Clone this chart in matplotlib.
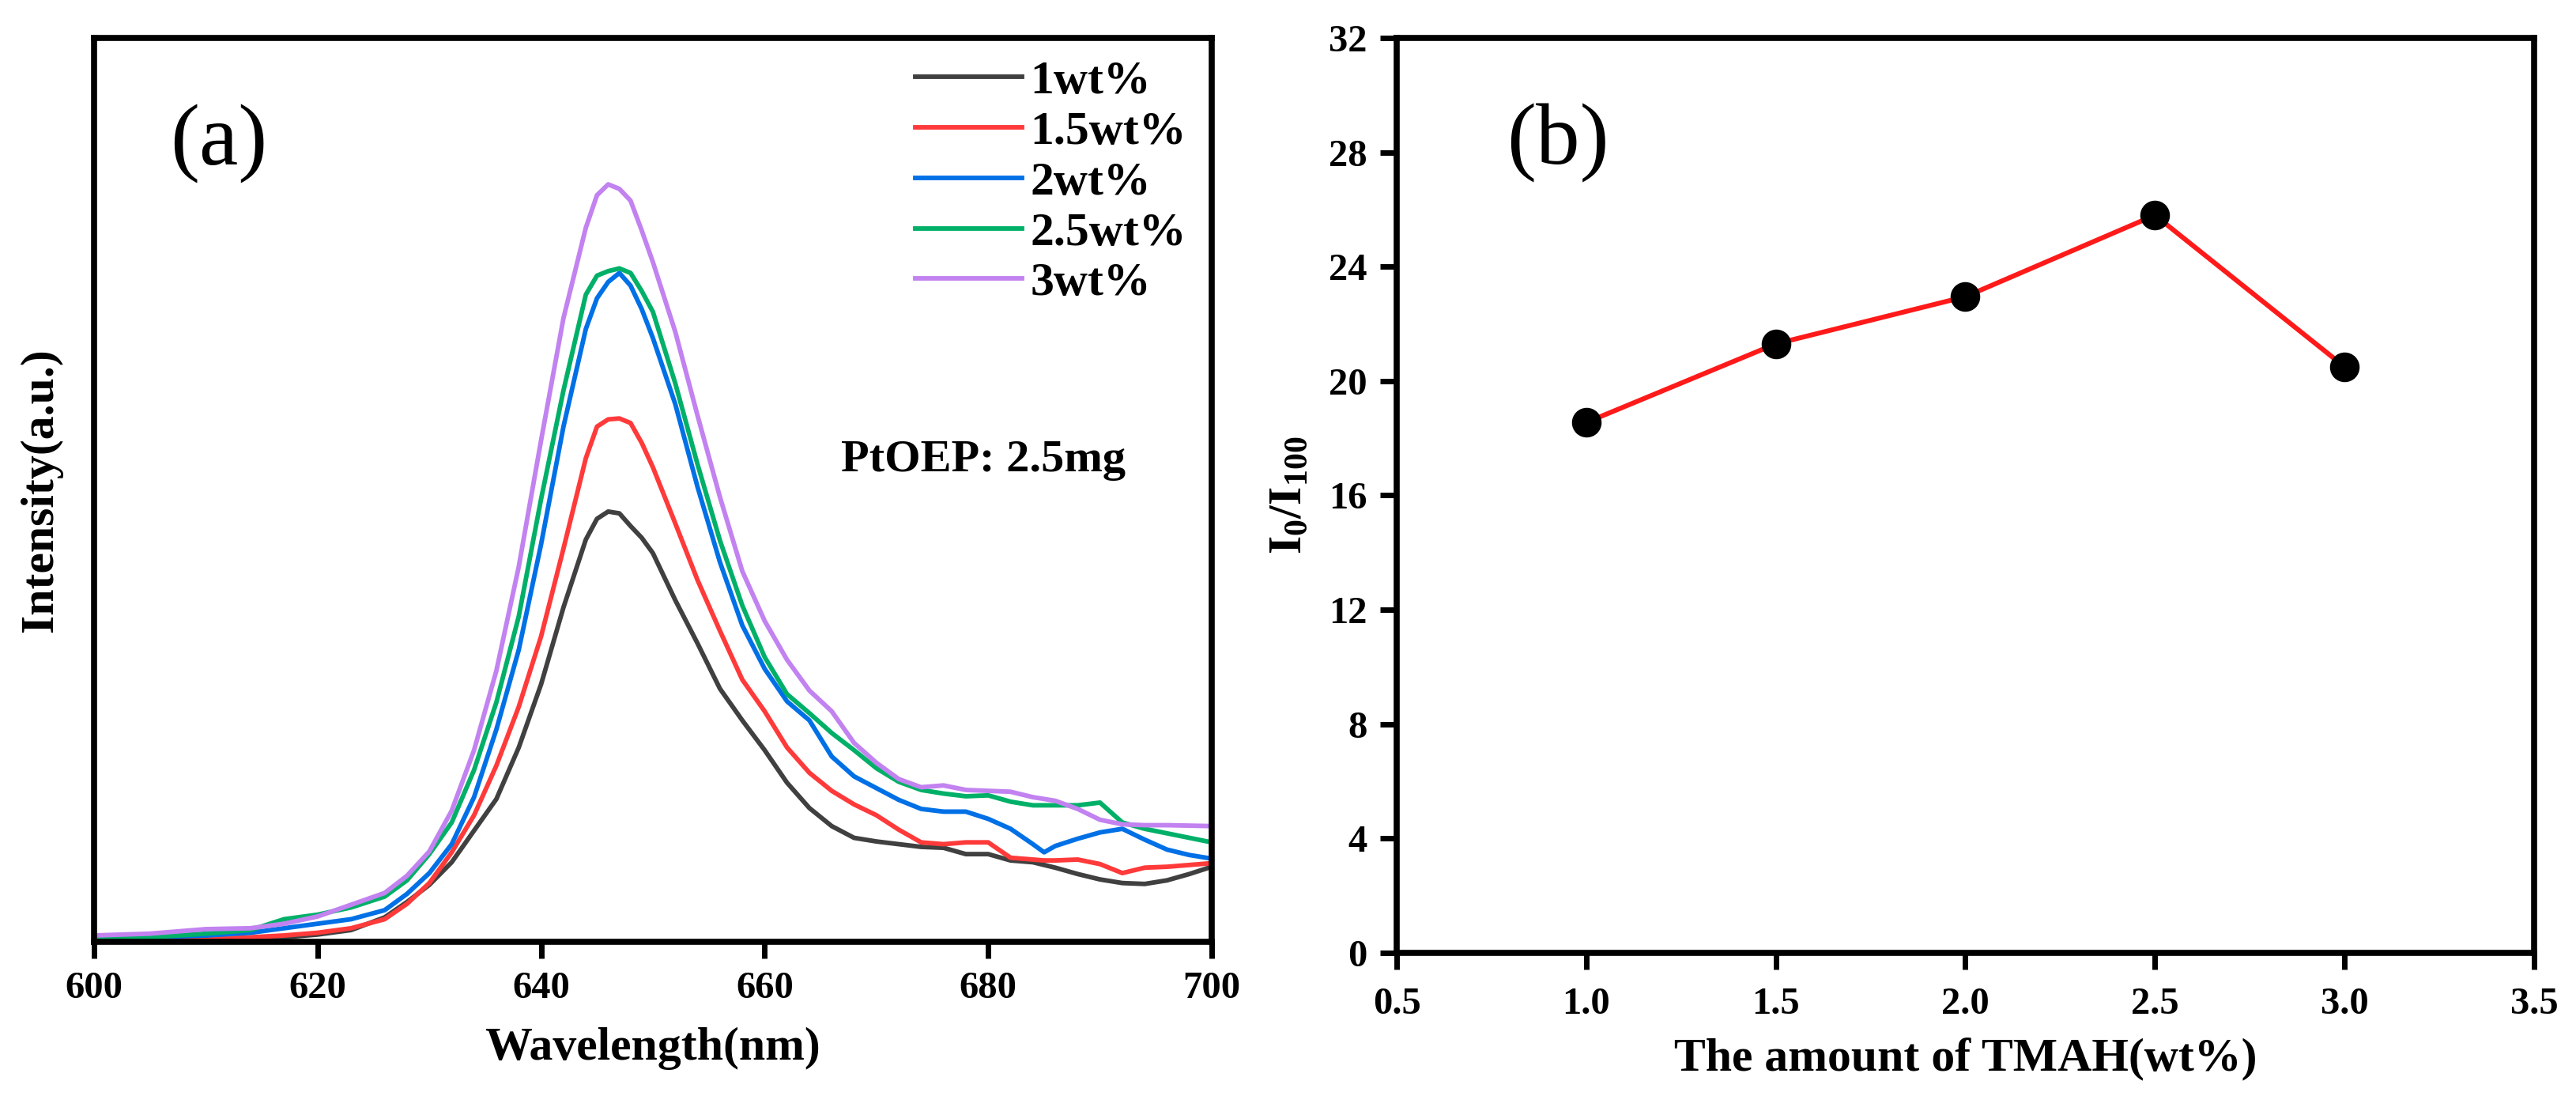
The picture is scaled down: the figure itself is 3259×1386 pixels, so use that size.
import matplotlib
matplotlib.use("Agg")
import matplotlib.pyplot as plt
import numpy as np

plt.rcParams['font.family'] = ['Liberation Serif', 'DejaVu Serif']
plt.rcParams['mathtext.fontset'] = 'custom'
plt.rcParams['mathtext.rm'] = 'Liberation Serif:bold'
plt.rcParams['mathtext.bf'] = 'Liberation Serif:bold'
plt.rcParams['mathtext.it'] = 'Liberation Serif:bold'

# ---- panel (a): emission spectra ----
wavelength = [600, 605, 610, 614, 617, 620, 623, 626, 628, 630, 632, 634, 636, 638,
              640, 642, 644, 645, 646, 647, 648, 649, 650, 652, 654, 656, 658, 660,
              662, 664, 666, 668, 670, 672, 674, 676, 678, 680, 682, 684, 685, 686,
              688, 690, 692, 694, 696, 698, 700]

int_1wt = [0.15, 0.15, 0.2, 0.3, 0.5, 0.8, 1.3, 2.7, 4.4, 6.3,
           8.8, 12.3, 15.8, 21.5, 28.5, 37.0, 44.5, 46.8, 47.6, 47.4,
           46.0, 44.7, 43.0, 37.8, 33.0, 28.0, 24.5, 21.2, 17.6, 14.8,
           12.8, 11.5, 11.1, 10.8, 10.5, 10.4, 9.7, 9.7, 9.0, 8.8,
           8.5, 8.2, 7.5, 6.9, 6.5, 6.4, 6.8, 7.5, 8.3]
int_15wt = [0.2, 0.25, 0.3, 0.5, 0.7, 1.0, 1.5, 2.5, 4.2, 6.5,
            9.9, 14.0, 19.5, 26.0, 33.8, 43.5, 53.5, 57.0, 57.8, 57.9,
            57.4, 55.2, 52.5, 46.3, 40.0, 34.4, 29.0, 25.5, 21.5, 18.7,
            16.7, 15.2, 14.0, 12.4, 11.0, 10.8, 11.0, 11.0, 9.3, 9.1,
            9.0, 9.0, 9.1, 8.6, 7.6, 8.2, 8.3, 8.5, 8.7]
int_2wt = [0.4, 0.5, 0.7, 1.0, 1.5, 2.0, 2.5, 3.5, 5.3, 7.6,
           10.8, 16.0, 23.5, 32.3, 44.0, 57.0, 67.8, 71.2, 73.0, 74.0,
           72.6, 70.0, 66.8, 59.5, 50.3, 42.0, 35.0, 30.2, 26.6, 24.5,
           20.5, 18.3, 17.0, 15.7, 14.7, 14.4, 14.4, 13.6, 12.5, 10.8,
           9.9, 10.6, 11.4, 12.1, 12.5, 11.3, 10.2, 9.6, 9.2]
int_25wt = [0.3, 0.5, 0.9, 1.3, 2.5, 3.0, 3.8, 5.0, 6.8, 9.7,
            13.2, 19.0, 26.5, 36.0, 49.0, 61.0, 71.6, 73.7, 74.2, 74.5,
            74.0, 72.0, 69.7, 61.8, 52.8, 44.4, 37.2, 31.5, 27.4, 25.3,
            23.1, 21.2, 19.2, 17.7, 16.8, 16.4, 16.1, 16.2, 15.5, 15.1,
            15.1, 15.1, 15.1, 15.4, 13.2, 12.5, 12.0, 11.5, 11.0]
int_3wt = [0.7, 0.9, 1.4, 1.5, 2.0, 2.8, 4.1, 5.4, 7.3, 10.0,
           14.5, 21.2, 30.0, 41.5, 55.5, 69.0, 79.0, 82.6, 83.8, 83.3,
           82.0, 78.7, 75.2, 67.5, 58.2, 49.2, 41.0, 35.5, 31.2, 27.8,
           25.5, 22.0, 19.8, 18.0, 17.1, 17.3, 16.8, 16.7, 16.6, 16.0,
           15.8, 15.6, 14.7, 13.5, 13.0, 12.9, 12.9, 12.85, 12.8]

spectra = [int_1wt, int_15wt, int_2wt, int_25wt, int_3wt]
labels = ["1wt%", "1.5wt%", "2wt%", "2.5wt%", "3wt%"]
colors = ["#404040", "#ff3a3a", "#0070e6", "#00b068", "#c282f0"]

# ---- panel (b): quenching ratio ----
tmah = [1.0, 1.5, 2.0, 2.5, 3.0]
ratio = [18.55, 21.3, 22.95, 25.8, 20.5]

fig = plt.figure(figsize=(32.59, 13.86), dpi=100, facecolor='white')
ax1 = fig.add_axes([0.0365, 0.1407, 0.4339, 0.8247])
ax2 = fig.add_axes([0.5422, 0.1306, 0.4415, 0.8348])

for ax in (ax1, ax2):
    for sp in ax.spines.values():
        sp.set_linewidth(5.5)

for y, lab, c in zip(spectra, labels, colors):
    ax1.plot(wavelength, y, color=c, lw=4.2, label=lab,
             solid_joinstyle='round')

ax1.set_xlim(600, 700)
ax1.set_ylim(0, 100)
ax1.set_xticks([600, 620, 640, 660, 680, 700])
ax1.set_yticks([])
ax1.tick_params(axis='x', direction='out', length=15, width=5, pad=12,
                labelsize=35)
for t in ax1.get_xticklabels():
    t.set_fontweight('bold')
ax1.set_xlabel("Wavelength(nm)", fontsize=43, fontweight='bold')
ax1.set_ylabel("Intensity(a.u.)", fontsize=43, fontweight='bold')
ax1.xaxis.set_label_coords(0.5, -0.094)
ax1.yaxis.set_label_coords(-0.028, 0.5)
ax1.text(0.068, 0.883, "(a)", transform=ax1.transAxes, fontsize=80,
         va='center', ha='left')
ax1.text(0.668, 0.533, "PtOEP: 2.5mg", transform=ax1.transAxes, fontsize=42,
         fontweight='bold', va='center', ha='left')
ax1.legend(loc='upper left', bbox_to_anchor=(0.735, 0.975), frameon=False,
           prop={'size': 43, 'weight': 'bold'}, handlelength=2.25,
           handletextpad=0.18, labelspacing=0.15, borderpad=0, borderaxespad=0)

ax2.plot(tmah, ratio, color='#ff1a1a', lw=4.4, marker='o', markersize=26,
         markerfacecolor='black', markeredgecolor='black')
ax2.set_xlim(0.5, 3.5)
ax2.set_ylim(0, 32)
ax2.set_xticks(np.arange(0.5, 3.51, 0.5))
ax2.set_xticklabels(["0.5", "1.0", "1.5", "2.0", "2.5", "3.0", "3.5"])
ax2.set_yticks(range(0, 33, 4))
ax2.tick_params(direction='out', length=15, width=5, labelsize=35)
ax2.tick_params(axis='x', pad=16)
ax2.tick_params(axis='y', pad=12)
for t in ax2.get_xticklabels() + ax2.get_yticklabels():
    t.set_fontweight('bold')
ax2.set_xlabel("The amount of TMAH(wt%)", fontsize=43, fontweight='bold')
ax2.set_ylabel(r"$\mathbf{I_0/I_{100}}$", fontsize=43)
ax2.xaxis.set_label_coords(0.5, -0.093)
ax2.yaxis.set_label_coords(-0.075, 0.5)
ax2.text(0.0966, 0.885, "(b)", transform=ax2.transAxes, fontsize=80,
         va='center', ha='left')

fig.savefig("out.png", dpi=100, facecolor='white')
